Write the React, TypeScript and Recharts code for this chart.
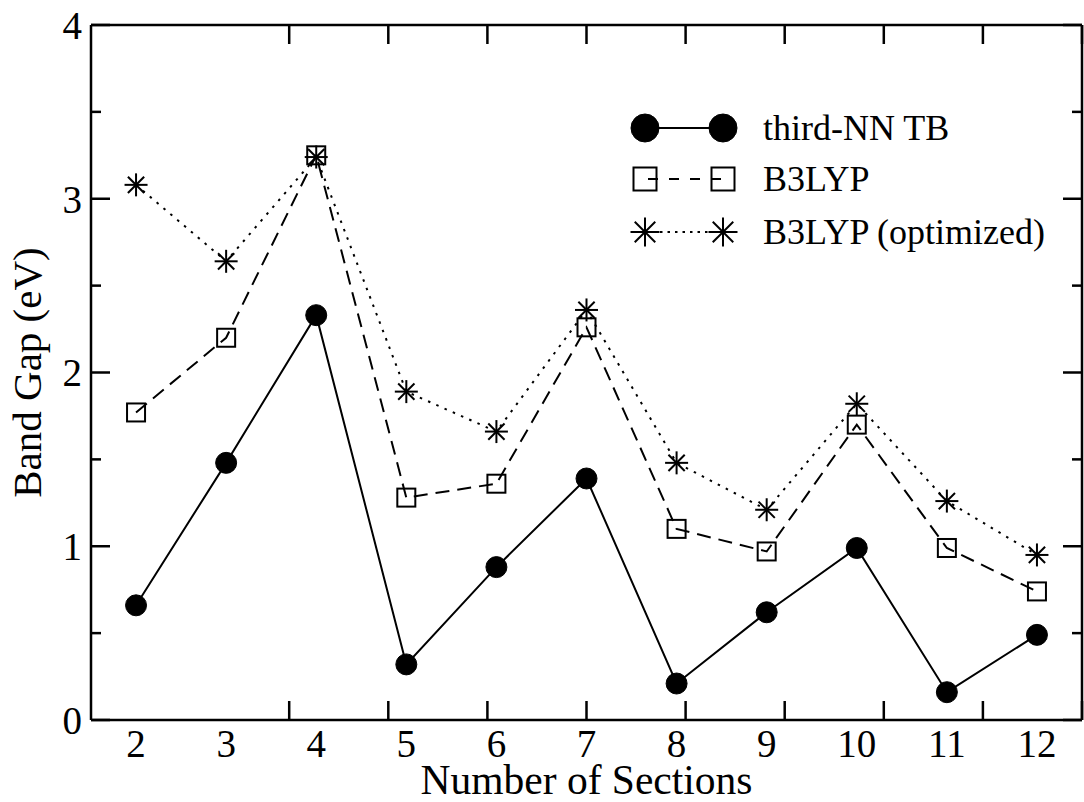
import React from 'react';
import { LineChart, Line, XAxis, YAxis, Legend } from 'recharts';

const sections = [2, 3, 4, 5, 6, 7, 8, 9, 10, 11, 12];
const tbGap = [0.66, 1.48, 2.33, 0.32, 0.88, 1.39, 0.21, 0.62, 0.99, 0.16, 0.49];
const b3lypGap = [1.77, 2.2, 3.25, 1.28, 1.36, 2.26, 1.1, 0.97, 1.7, 0.99, 0.74];
const b3lypOptGap = [3.08, 2.64, 3.24, 1.89, 1.66, 2.36, 1.48, 1.21, 1.82, 1.26, 0.95];

const xTicks = [2, 3, 4, 5, 6, 7, 8, 9, 10, 11, 12];
const yMajorTicks = [0, 1, 2, 3, 4];
const yMinorTicks = [0.5, 1.5, 2.5, 3.5];
const seriesNames = ['third-NN TB', 'B3LYP', 'B3LYP (optimized)'];

const data = sections.map((n, i) => ({
  n,
  tb: tbGap[i],
  b3: b3lypGap[i],
  b3o: b3lypOptGap[i],
}));

const FONT = '"Liberation Serif", "Times New Roman", serif';
const DASH = '14 8';
const DOT = '2.5 6.5';

const tickStyle = { fontFamily: FONT, fontSize: 39, fill: '#000' };
const axisLine = { stroke: '#000', strokeWidth: 2.5 };
const tickLine = { stroke: '#000', strokeWidth: 2.5 };

function NoLabel() {
  return <g />;
}

function CircleMark({ cx, cy, r = 10.5 }: { cx: number; cy: number; r?: number }) {
  return <circle cx={cx} cy={cy} r={r} fill="#000" stroke="#000" strokeWidth={1} />;
}
function SquareMark({ cx, cy, s = 18 }: { cx: number; cy: number; s?: number }) {
  return <rect x={cx - s / 2} y={cy - s / 2} width={s} height={s} fill="none" stroke="#000" strokeWidth={2} />;
}
function StarMark({ cx, cy, a = 11.5 }: { cx: number; cy: number; a?: number }) {
  const d = a * 0.7071;
  return (
    <g stroke="#000" strokeWidth={2}>
      <line x1={cx - a} y1={cy} x2={cx + a} y2={cy} />
      <line x1={cx} y1={cy - a} x2={cx} y2={cy + a} />
      <line x1={cx - d} y1={cy - d} x2={cx + d} y2={cy + d} />
      <line x1={cx - d} y1={cy + d} x2={cx + d} y2={cy - d} />
    </g>
  );
}

function LegendBox() {
  const rows = [28, 79, 132];
  const x1 = 25;
  const x2 = 103;
  return (
    <svg width={460} height={170} style={{ display: 'block' }}>
      <line x1={x1} y1={rows[0]} x2={x2} y2={rows[0]} stroke="#000" strokeWidth={2} />
      <CircleMark cx={x1} cy={rows[0]} r={14} />
      <CircleMark cx={x2} cy={rows[0]} r={14} />
      <line x1={x1} y1={rows[1]} x2={x2} y2={rows[1]} stroke="#000" strokeWidth={2} strokeDasharray="0 3 10 8" />
      <SquareMark cx={x1} cy={rows[1]} s={23} />
      <SquareMark cx={x2} cy={rows[1]} s={23} />
      <line x1={x1} y1={rows[2]} x2={x2} y2={rows[2]} stroke="#000" strokeWidth={2} strokeDasharray="2.5 5" />
      <StarMark cx={x1} cy={rows[2]} a={14.5} />
      <StarMark cx={x2} cy={rows[2]} a={14.5} />
      {seriesNames.map((name, i) => (
        <text key={name} x={143} y={rows[i] + 12} fontFamily={FONT} fontSize={36} fill="#000">
          {name}
        </text>
      ))}
    </svg>
  );
}

function XTitle(props: any) {
  const vb = props.viewBox || {};
  return (
    <text x={vb.x + vb.width / 2} y={794} textAnchor="middle" fontFamily={FONT} fontSize={41.5} fill="#000">
      Number of Sections
    </text>
  );
}

function YTitle(props: any) {
  const vb = props.viewBox || {};
  const cy = vb.y + vb.height / 2;
  return (
    <text
      x={27}
      y={cy}
      transform={`rotate(-90, 27, ${cy})`}
      textAnchor="middle"
      dominantBaseline="central"
      fontFamily={FONT}
      fontSize={41}
      fill="#000"
    >
      Band Gap (eV)
    </text>
  );
}

export default function App() {
  return (
    <div style={{ position: 'absolute', left: 0, top: 0, background: '#fff' }}>
      <LineChart width={1084} height={802} data={data} margin={{ top: 25, right: 2, left: 0, bottom: 0 }}>
        <XAxis
          xAxisId="b"
          dataKey="n"
          type="number"
          domain={[1.5, 12.5]}
          allowDataOverflow
          ticks={xTicks}
          interval={0}
          height={82}
          tickLine={false}
          tickSize={0}
          tickMargin={9}
          axisLine={axisLine}
          tick={tickStyle}
          label={<XTitle />}
        />
        <XAxis
          xAxisId="bTicks"
          type="number"
          domain={[1.5, 12.5]}
          allowDataOverflow
          ticks={xTicks}
          interval={0}
          mirror
          height={1}
          tickSize={19}
          tick={<NoLabel />}
          tickLine={tickLine}
          axisLine={false}
        />
        <XAxis
          xAxisId="tTicks"
          orientation="top"
          type="number"
          domain={[1.5, 12.5]}
          allowDataOverflow
          ticks={xTicks}
          interval={0}
          mirror
          height={1}
          tickSize={19}
          tick={<NoLabel />}
          tickLine={tickLine}
          axisLine={axisLine}
        />
        <YAxis
          yAxisId="l"
          type="number"
          domain={[0, 4]}
          allowDataOverflow
          ticks={yMajorTicks}
          interval={0}
          width={91}
          tickLine={false}
          tickSize={0}
          tickMargin={9}
          axisLine={axisLine}
          tick={tickStyle}
          label={<YTitle />}
        />
        <YAxis yAxisId="lMaj" type="number" domain={[0, 4]} allowDataOverflow ticks={yMajorTicks} interval={0} mirror width={1} tickSize={19} tick={<NoLabel />} tickLine={tickLine} axisLine={false} />
        <YAxis yAxisId="lMin" type="number" domain={[0, 4]} allowDataOverflow ticks={yMinorTicks} interval={0} mirror width={1} tickSize={9} tick={<NoLabel />} tickLine={tickLine} axisLine={false} />
        <YAxis yAxisId="rMaj" orientation="right" type="number" domain={[0, 4]} allowDataOverflow ticks={yMajorTicks} interval={0} mirror width={1} tickSize={19} tick={<NoLabel />} tickLine={tickLine} axisLine={axisLine} />
        <YAxis yAxisId="rMin" orientation="right" type="number" domain={[0, 4]} allowDataOverflow ticks={yMinorTicks} interval={0} mirror width={1} tickSize={9} tick={<NoLabel />} tickLine={tickLine} axisLine={false} />
        <Legend
          layout="vertical"
          align="center"
          verticalAlign="middle"
          wrapperStyle={{ position: 'absolute', left: 620, top: 100, width: 460, height: 170 }}
          content={() => <LegendBox />}
        />
        <Line
          xAxisId="b"
          yAxisId="l"
          dataKey="tb"
          name={seriesNames[0]}
          stroke="#000"
          strokeWidth={2}
          isAnimationActive={false}
          dot={(p: any) => <CircleMark key={`c${p.index}`} cx={p.cx} cy={p.cy} />}
          activeDot={false}
        />
        <Line
          xAxisId="b"
          yAxisId="l"
          dataKey="b3"
          name={seriesNames[1]}
          stroke="#000"
          strokeWidth={2}
          strokeDasharray={DASH}
          isAnimationActive={false}
          dot={(p: any) => <SquareMark key={`s${p.index}`} cx={p.cx} cy={p.cy} />}
          activeDot={false}
        />
        <Line
          xAxisId="b"
          yAxisId="l"
          dataKey="b3o"
          name={seriesNames[2]}
          stroke="#000"
          strokeWidth={2}
          strokeDasharray={DOT}
          isAnimationActive={false}
          dot={(p: any) => <StarMark key={`t${p.index}`} cx={p.cx} cy={p.cy} />}
          activeDot={false}
        />
      </LineChart>
    </div>
  );
}
